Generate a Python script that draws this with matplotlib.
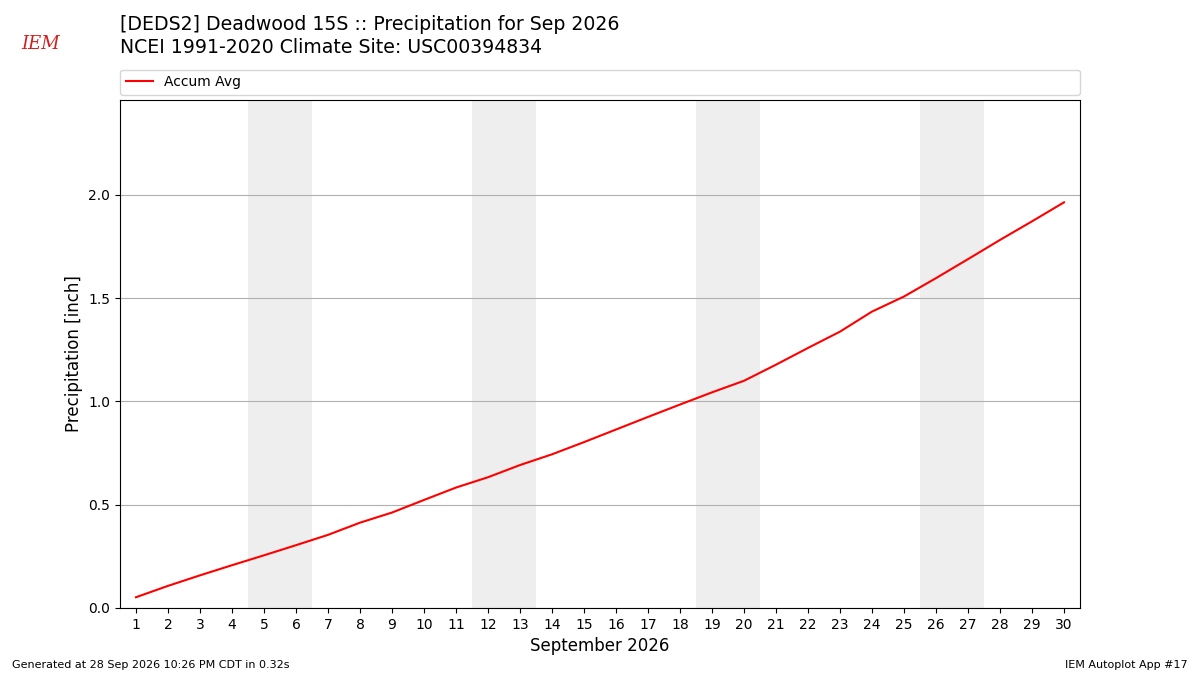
import matplotlib
matplotlib.use("Agg")
import matplotlib.pyplot as plt

days = list(range(1, 31))
accum_avg = [0.052, 0.107, 0.158, 0.207, 0.255, 0.304, 0.354, 0.413, 0.462, 0.523,
             0.583, 0.633, 0.692, 0.744, 0.803, 0.864, 0.925, 0.985, 1.044, 1.100,
             1.178, 1.259, 1.338, 1.435, 1.508, 1.597, 1.689, 1.782, 1.872, 1.964]
weekends = [(5, 6), (12, 13), (19, 20), (26, 27)]

title1 = "[DEDS2] Deadwood 15S :: Precipitation for Sep 2026"
title2 = "NCEI 1991-2020 Climate Site: USC00394834"

fig = plt.figure(figsize=(12, 6.75), dpi=100)
ax = fig.add_axes([0.1, 0.0993, 0.8, 0.7527])

for a, b in weekends:
    ax.axvspan(a - 0.5, b + 0.5, color="#eeeeee", zorder=0, lw=0)

ax.plot(days, accum_avg, color="red", lw=1.5, label="Accum Avg", zorder=3)
ax.set_xlim(0.5, 30.5)
ax.set_ylim(0, 2.46)
ax.set_xticks(days)
ax.set_yticks([0, 0.5, 1.0, 1.5, 2.0])
ax.grid(axis="y", color="#b0b0b0", lw=0.8, zorder=1)
ax.set_axisbelow(True)
ax.set_xlabel("September 2026", fontsize=12)
ax.set_ylabel("Precipitation [inch]", fontsize=12)
ax.tick_params(labelsize=10)

ax.legend(loc="lower left", bbox_to_anchor=(0, 1.01, 1, 0.05), mode="expand",
          ncol=1, fontsize=10, borderaxespad=0, frameon=True)

fig.text(0.1, 0.963, title1, fontsize=13.6, va="center", ha="left")
fig.text(0.1, 0.93, title2, fontsize=13.6, va="center", ha="left")

fig.text(0.018, 0.935, "IEM", fontsize=13, color="#d02020", family="DejaVu Serif",
         style="italic", va="center", ha="left")

fig.text(0.01, 0.015, "Generated at 28 Sep 2026 10:26 PM CDT in 0.32s", fontsize=8,
         ha="left", va="center")
fig.text(0.99, 0.015, "IEM Autoplot App #17", fontsize=8, ha="right", va="center")

fig.savefig("out.png", dpi=100)
